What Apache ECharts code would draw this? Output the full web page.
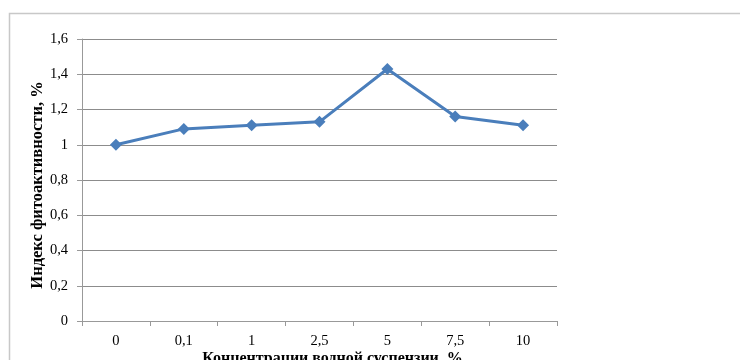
<!DOCTYPE html>
<html>
<head>
<meta charset="utf-8">
<script src="https://cdn.jsdelivr.net/npm/echarts@6/dist/echarts.min.js"></script>
<style>
html,body{margin:0;padding:0;background:#fff;}
#c{width:740px;height:360px;}
</style>
</head>
<body>
<div id="c"></div>
<script>
// Концентрации и индекс фитоактивности
const categories = ['0', '0,1', '1', '2,5', '5', '7,5', '10'];
const phytoIndex = [1.0, 1.09, 1.11, 1.13, 1.43, 1.16, 1.11];
const yTicks = [0, 0.2, 0.4, 0.6, 0.8, 1.0, 1.2, 1.4, 1.6];

const chart = echarts.init(document.getElementById('c'));
const serif = '"Liberation Serif", "DejaVu Serif", serif';
chart.setOption({
  animation: false,
  graphic: [{
    type: 'rect',
    shape: { x: 9.5, y: 13.5, width: 760, height: 400 },
    style: { fill: 'none', stroke: '#c8c8c8', lineWidth: 1.5 },
    silent: true
  }],
  grid: { left: 82, right: 183, top: 39, bottom: 39, outerBoundsMode: 'none', containLabel: false },
  xAxis: {
    type: 'category',
    data: categories,
    boundaryGap: true,
    name: 'Концентрации водной суспензии, %',
    nameLocation: 'middle',
    nameMoveOverlap: false,
    nameGap: 30,
    nameTextStyle: { fontFamily: serif, fontSize: 16, fontWeight: 'bold', color: '#000', padding: [0, 0, 0, 26] },
    axisLine: { lineStyle: { color: '#999', width: 1 } },
    axisTick: { show: true, length: 5, alignWithLabel: false, lineStyle: { color: '#999' } },
    axisLabel: { fontFamily: serif, fontSize: 14.5, color: '#000', margin: 13 }
  },
  yAxis: {
    type: 'value',
    min: 0,
    max: 1.6,
    interval: 0.2,
    name: 'Индекс фитоактивности, %',
    nameLocation: 'middle',
    nameMoveOverlap: false,
    nameGap: 36,
    nameTextStyle: { fontFamily: serif, fontSize: 16.5, fontWeight: 'bold', color: '#000', padding: [0, 10, 0, 0] },
    axisLine: { show: true, lineStyle: { color: '#999', width: 1 } },
    axisTick: { show: true, length: 5, lineStyle: { color: '#999' } },
    splitLine: { lineStyle: { color: '#8c8c8c', width: 1 } },
    axisLabel: {
      fontFamily: serif, fontSize: 14.5, color: '#000', margin: 14,
      formatter: v => {
        const t = yTicks.find(x => Math.abs(x - v) < 1e-9);
        return String(t === undefined ? v : t).replace('.', ',');
      }
    }
  },
  series: [{
    type: 'line',
    data: phytoIndex,
    symbol: 'diamond',
    symbolSize: 12,
    lineStyle: { color: '#4a7ebb', width: 3 },
    itemStyle: { color: '#4a7ebb' }
  }]
});
</script>
</body>
</html>
